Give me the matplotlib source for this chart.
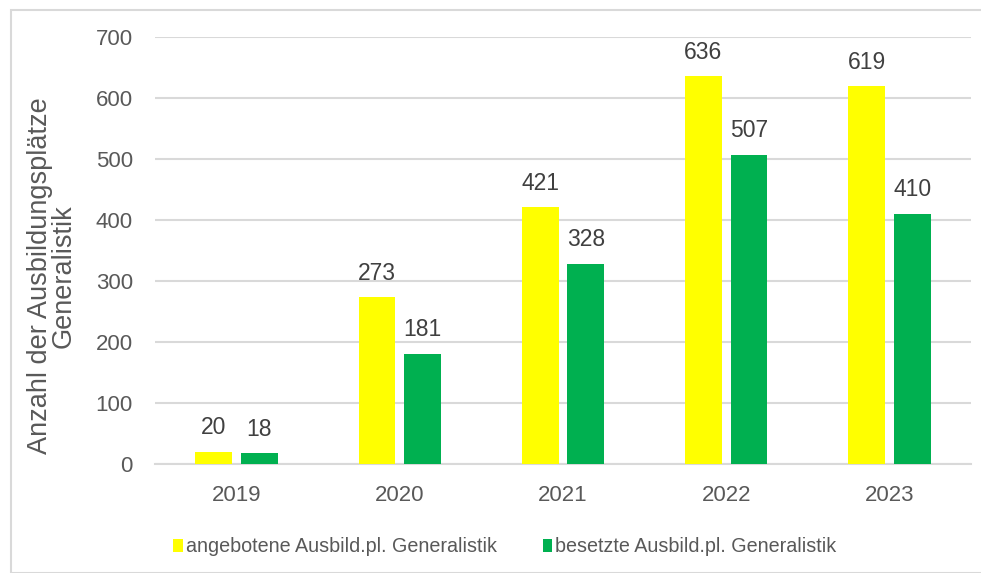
import matplotlib
matplotlib.use("Agg")
import matplotlib.pyplot as plt
from matplotlib.patches import Rectangle
import numpy as np

years = ["2019", "2020", "2021", "2022", "2023"]
angebotene = [20, 273, 421, 636, 619]
besetzte = [18, 181, 328, 507, 410]
series_labels = ["angebotene Ausbild.pl. Generalistik", "besetzte Ausbild.pl. Generalistik"]
yticks = [0, 100, 200, 300, 400, 500, 600, 700]

plt.rcParams['font.family'] = ['Liberation Sans', 'DejaVu Sans']
W, H = 981, 573
fig = plt.figure(figsize=(W/100, H/100), dpi=100)

# outer frame
fig.patches.append(Rectangle((11/W, 0), 2, 1 - 10/H, transform=fig.transFigure,
                             fill=False, edgecolor='#d9d9d9', linewidth=1.5))

left, right, bottom, top = 155, 971, 464, 37
ax = fig.add_axes([left/W, 1 - bottom/H, (right-left)/W, (bottom-top)/H])
x = np.arange(len(years))
bw = 0.225
off = 0.14
yellow = '#ffff00'
green = '#00b050'
b1 = ax.bar(x - off, angebotene, bw, color=yellow, label=series_labels[0], zorder=3)
b2 = ax.bar(x + off, besetzte, bw, color=green, label=series_labels[1], zorder=3)
for bars in (b1, b2):
    ax.bar_label(bars, padding=9, fontsize=16.5, color='#404040')

ax.set_xlim(-0.5, len(years) - 0.5)
ax.set_ylim(0, 700)
ax.set_yticks(yticks)
ax.set_xticks(x)
ax.set_xticklabels(years)
ax.tick_params(axis='both', length=0, labelsize=16, colors='#595959')
ax.tick_params(axis='y', pad=16)
ax.tick_params(axis='x', pad=15)
ax.grid(axis='y', color='#d9d9d9', linewidth=1.5, zorder=0)
for s in ['top', 'right', 'left']:
    ax.spines[s].set_visible(False)
ax.spines['bottom'].set_color('#d9d9d9')
ax.spines['bottom'].set_linewidth(1.5)

fig.text(52/W, 1 - 276/H, "Anzahl der Ausbildungsplätze\nGeneralistik", rotation=90,
         ha='center', va='center', fontsize=19.5, color='#595959', linespacing=0.85)

leg = fig.legend(handles=[b1, b2], loc='center', bbox_to_anchor=(505/W, 1 - 547/H),
                 ncol=2, frameon=False, fontsize=14.2, handlelength=0.5, handleheight=0.6,
                 handletextpad=0.15, columnspacing=2.3, labelcolor='#595959')

fig.savefig("out.png", dpi=100)
